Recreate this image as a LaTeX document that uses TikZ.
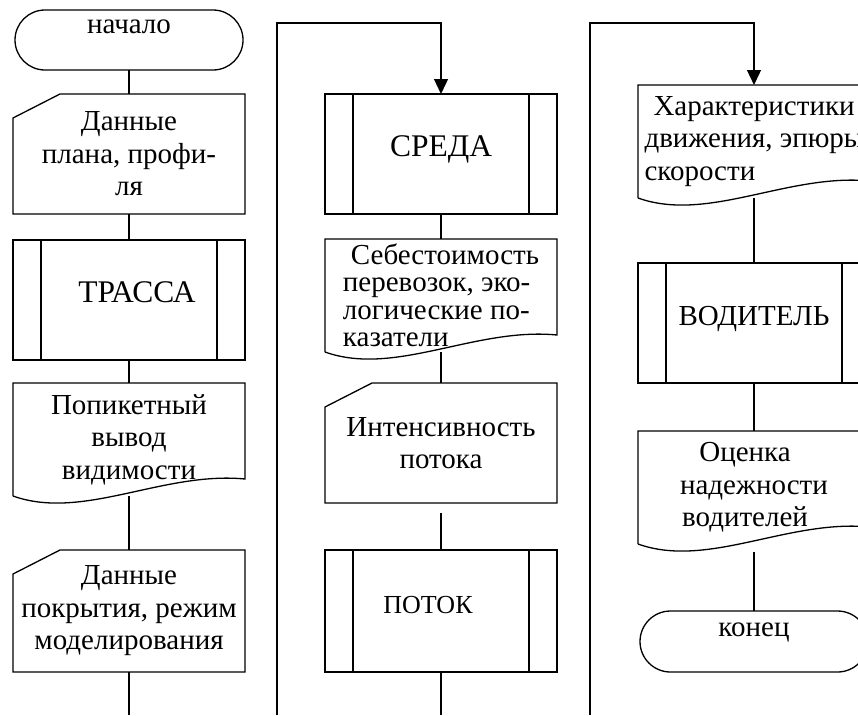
\documentclass[tikz,border=0pt]{standalone}
\usepackage{fontspec}
\setmainfont{Liberation Serif}
\usetikzlibrary{arrows.meta, shapes.misc}
\newcommand{\blockfont}{\fontsize{29}{32.5}\selectfont}
\newcommand{\capsfont}[1]{\fontsize{#1}{#1}\selectfont}
\tikzset{
    block/.style={minimum width=232pt, font=\blockfont, inner sep=2pt, outer sep=0pt},
    term/.style={block, rounded rectangle, draw, minimum height=60pt, text height=0pt, text depth=13pt},
    subr/.style={block, minimum height=120pt, text height=4pt, text depth=0pt},
    manin/.style={block, align=center, minimum height=120pt},
    docu/.style={block, align=center, minimum height=113pt},
    flow/.style={-{Triangle[length=15pt, width=14pt]}}
}
% shapes drawn round the named nodes
\newcommand{\subshape}[1]{%
    \draw (#1.north west) rectangle (#1.south east)
        ([xshift=28pt]#1.north west) -- ([xshift=28pt]#1.south west)
        ([xshift=-28pt]#1.north east) -- ([xshift=-28pt]#1.south east);}
\newcommand{\maninshape}[1]{%
    \draw (#1.south west) -- ([yshift=-24pt]#1.north west) -- ([xshift=47pt]#1.north west)
        -- (#1.north east) -- (#1.south east) -- cycle;}
\newcommand{\docshape}[1]{%
    \draw (#1.south west) -- (#1.north west) -- (#1.north east) -- ([yshift=17pt]#1.south east)
        .. controls ([xshift=150pt, yshift=25pt]#1.south west) and ([xshift=70pt, yshift=-25pt]#1.south west) .. (#1.south west);}

\begin{document}
\begin{tikzpicture}[x=1pt, y=1pt, line width=1.3pt]
    \useasboundingbox (0,0) rectangle (858,-715);

    % first column
    \node[term, anchor=north] (start) at (129,-10) {начало};
    \node[manin, anchor=north] (plan) at (129,-94) {Данные\\плана, профи-\\ля};
    \node[subr, anchor=north, font=\capsfont{31.5}] (trassa) at (129,-240) {\hspace*{16pt}ТРАССА};
    \node[docu, anchor=north] (picket) at (129,-383) {Попикетный\\вывод\\видимости};
    \node[manin, anchor=north, minimum height=122pt] (cover) at (129,-550) {Данные\\покрытия, режим\\моделирования};
    \coordinate (end1) at (129,-715);

    % second column
    \node[subr, anchor=north, font=\capsfont{31.5}] (sreda) at (441,-94) {СРЕДА};
    \node[docu, anchor=north, align=left, font={\fontsize{29}{27.5}\selectfont}] (cost) at (441,-239)
        {\hspace*{8pt}Себестоимость\\перевозок, эко-\\логические по-\\казатели};
    \node[manin, anchor=north] (flowint) at (441,-383) {Интенсивность\\потока};
    \node[subr, anchor=north, minimum height=122pt, font=\capsfont{26}] (potok) at (441,-550) {ПОТОК\hspace*{26pt}};
    \coordinate (end2) at (441,-715);

    % third column
    \node[docu, anchor=north, align=left] (chars) at (754,-85)
        {\hspace*{9pt}Характеристики\\движения, эпюры\\скорости};
    \node[subr, anchor=north] (driver) at (754,-263) {ВОДИТЕЛЬ};
    \node[docu, anchor=north] (rating) at (754,-431)
        {Оценка\hspace*{18pt}\\надежности\hspace*{18pt}\\водителей\hspace*{18pt}};
    \node[term, anchor=north, minimum height=61pt, text depth=10pt] (finish) at (754,-611) {конец};

    \foreach \n in {trassa, sreda, potok, driver} \subshape{\n};
    \foreach \n in {plan, cover, flowint} \maninshape{\n};
    \foreach \n in {picket, cost, chars, rating} \docshape{\n};

    % connectors
    \draw (start) -- (plan);
    \draw (plan) -- (trassa);
    \draw (trassa) -- (picket);
    \draw (picket) -- (cover);
    \draw (cover) -- (end1);
    \draw (sreda) -- (cost);
    \draw (cost) -- (flowint);
    \draw[shorten <=10pt] (flowint) -- (potok);
    \draw (potok) -- (end2);
    \draw (chars) -- (driver);
    \draw (driver) -- (rating);
    \draw[shorten <=8pt] (rating) -- (finish);

    % page continuation lines
    \coordinate (up1) at (277,-715);
    \coordinate (top1) at (277,-23);
    \coordinate (up2) at (590,-715);
    \coordinate (top2) at (590,-23);
    \draw[flow] (up1) -- (top1) -| (sreda);
    \draw[flow] (up2) -- (top2) -| (chars);
\end{tikzpicture}
\end{document}
